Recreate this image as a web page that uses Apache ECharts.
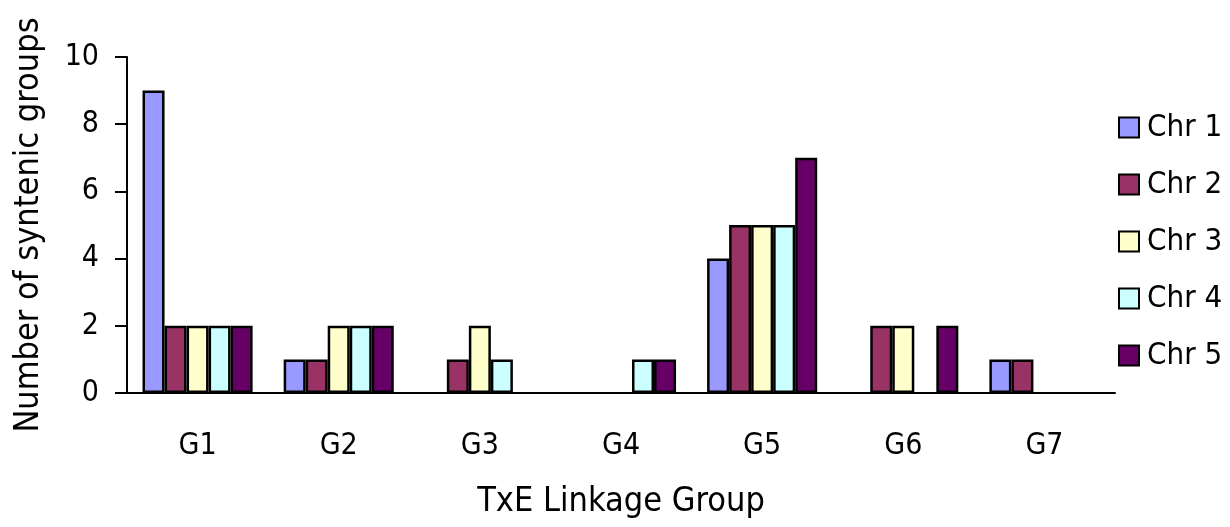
<!DOCTYPE html>
<html><head><meta charset="utf-8">
<script src="https://cdn.jsdelivr.net/npm/echarts@6/dist/echarts.min.js"></script>
<style>html,body{margin:0;padding:0;background:#fff}#c{width:1230px;height:527px}</style>
</head><body><div id="c"></div>
<script>
const categories = ['G1','G2','G3','G4','G5','G6','G7'];
const seriesNames = ['Chr 1','Chr 2','Chr 3','Chr 4','Chr 5'];
const chr1 = [9,1,0,0,4,0,1];
const chr2 = [2,1,1,0,5,2,1];
const chr3 = [2,2,2,0,5,2,0];
const chr4 = [2,2,1,1,5,0,0];
const chr5 = [2,2,0,1,7,2,0];
const colors = ['#9999FF','#993366','#FFFFCC','#CCFFFF','#660066'];
const yTicks = {min:0, max:10, interval:2};
const values = [chr1,chr2,chr3,chr4,chr5];
const font = '"DejaVu Sans Condensed", "DejaVu Sans", sans-serif';
const chart = echarts.init(document.getElementById('c'));
chart.setOption({
  animation:false,
  grid:{left:127, top:57, right:115, bottom:134, outerBoundsMode:'none', containLabel:false},
  legend:{
    orient:'vertical', left:1118, top:112, itemGap:26, padding:0,
    itemWidth:20, itemHeight:20, icon:'rect',
    textStyle:{fontFamily:font, fontSize:31, color:'#000', padding:[0,0,0,3]},
    itemStyle:{borderColor:'#000', borderWidth:2},
    data:seriesNames
  },
  xAxis:{
    type:'category', data:categories,
    name:'TxE Linkage Group', nameLocation:'middle', nameGap:92,
    nameTextStyle:{fontFamily:font, fontSize:34, color:'#000'},
    axisLine:{lineStyle:{color:'#000', width:2}},
    axisTick:{length:12, lineStyle:{color:'#000', width:2}},
    axisLabel:{fontFamily:font, fontSize:30, color:'#000', margin:38}
  },
  yAxis:{
    type:'value', min:yTicks.min, max:yTicks.max, interval:yTicks.interval,
    name:'Number of syntenic groups', nameLocation:'middle', nameGap:81,
    nameTextStyle:{fontFamily:font, fontSize:34, color:'#000'},
    axisLine:{show:true, lineStyle:{color:'#000', width:2}},
    axisTick:{show:true, length:12, lineStyle:{color:'#000', width:2}},
    axisLabel:{fontFamily:font, fontSize:30, color:'#000', margin:28},
    splitLine:{show:false}
  },
  series: seriesNames.map((n,i)=>({
    name:n, type:'bar',
    data:values[i].map(v => v === 0 ? {value:v, itemStyle:{borderWidth:0}} : v),
    barGap:'0%', barCategoryGap:'22%',
    itemStyle:{color:colors[i], borderColor:'#000', borderWidth:2.5}
  }))
});
</script></body></html>
